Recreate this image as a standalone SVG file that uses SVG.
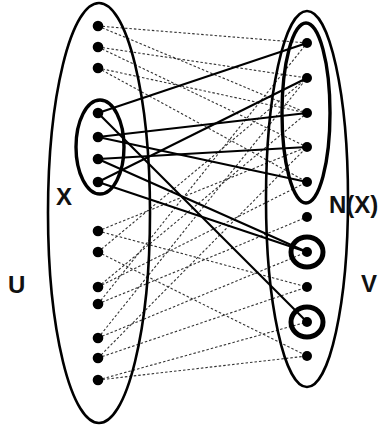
<svg xmlns="http://www.w3.org/2000/svg" width="384" height="431" viewBox="0 0 384 431">
<style>
.set{fill:none;stroke:#000;stroke-width:2.6}
.thick{fill:none;stroke:#000;stroke-width:3.4}
.ring{fill:none;stroke:#000;stroke-width:5}
.dot{fill:#000}
.solid{stroke:#000;stroke-width:2.1;fill:none}
.dash{stroke:#333;stroke-width:1.1;stroke-dasharray:2.5,2;fill:none}
.lbl{font-family:"Liberation Sans",Arial,sans-serif;font-weight:bold;font-size:24px;fill:#111}
</style>
<rect width="384" height="431" fill="#fff"/>
<g id="connectors">
<g id="dashed">
<line class="dash" x1="98" y1="26" x2="307" y2="43"/>
<line class="dash" x1="98" y1="26" x2="307" y2="113"/>
<line class="dash" x1="98" y1="47" x2="307" y2="78"/>
<line class="dash" x1="98" y1="47" x2="307" y2="147"/>
<line class="dash" x1="98" y1="68" x2="307" y2="113"/>
<line class="dash" x1="98" y1="68" x2="307" y2="182"/>
<line class="dash" x1="98" y1="231" x2="307" y2="147"/>
<line class="dash" x1="98" y1="231" x2="307" y2="287"/>
<line class="dash" x1="98" y1="252" x2="307" y2="78"/>
<line class="dash" x1="98" y1="252" x2="307" y2="356"/>
<line class="dash" x1="98" y1="287" x2="307" y2="113"/>
<line class="dash" x1="98" y1="287" x2="307" y2="182"/>
<line class="dash" x1="98" y1="304" x2="307" y2="43"/>
<line class="dash" x1="98" y1="304" x2="307" y2="217"/>
<line class="dash" x1="98" y1="338" x2="307" y2="78"/>
<line class="dash" x1="98" y1="338" x2="307" y2="252"/>
<line class="dash" x1="98" y1="358" x2="307" y2="147"/>
<line class="dash" x1="98" y1="358" x2="307" y2="287"/>
<line class="dash" x1="98" y1="380" x2="307" y2="322"/>
<line class="dash" x1="98" y1="380" x2="307" y2="356"/>
</g>
<g id="solid">
<line class="solid" x1="98" y1="113" x2="307" y2="43"/>
<line class="solid" x1="98" y1="113" x2="307" y2="322"/>
<line class="solid" x1="98" y1="137" x2="307" y2="113"/>
<line class="solid" x1="98" y1="137" x2="307" y2="182"/>
<line class="solid" x1="98" y1="159" x2="307" y2="147"/>
<line class="solid" x1="98" y1="159" x2="307" y2="252"/>
<line class="solid" x1="98" y1="182" x2="307" y2="78"/>
<line class="solid" x1="98" y1="182" x2="307" y2="252"/>
</g>
</g>
<g id="U">
<ellipse class="set" cx="99" cy="213" rx="51" ry="210"/>
<text class="lbl" x="8" y="293">U</text>
</g>
<g id="X">
<ellipse class="thick" cx="100" cy="147" rx="24" ry="47"/>
<text class="lbl" x="56" y="205">X</text>
</g>
<g id="V">
<ellipse class="set" cx="307" cy="199" rx="41" ry="188"/>
<text class="lbl" x="361" y="292">V</text>
</g>
<g id="NX">
<ellipse class="thick" cx="306" cy="113" rx="24" ry="90"/>
<text class="lbl" x="329" y="213">N(X)</text>
</g>
<g id="rings">
<ellipse class="ring" cx="307" cy="252" rx="16" ry="15"/>
<ellipse class="ring" cx="307" cy="322" rx="16" ry="15"/>
</g>
<g id="left-vertices">
<circle class="dot" cx="98" cy="26" r="5.3"/>
<circle class="dot" cx="98" cy="47" r="5.3"/>
<circle class="dot" cx="98" cy="68" r="5.3"/>
<circle class="dot" cx="98" cy="113" r="5.3"/>
<circle class="dot" cx="98" cy="137" r="5.3"/>
<circle class="dot" cx="98" cy="159" r="5.3"/>
<circle class="dot" cx="98" cy="182" r="5.3"/>
<circle class="dot" cx="98" cy="231" r="5.3"/>
<circle class="dot" cx="98" cy="252" r="5.3"/>
<circle class="dot" cx="98" cy="287" r="5.3"/>
<circle class="dot" cx="98" cy="304" r="5.3"/>
<circle class="dot" cx="98" cy="338" r="5.3"/>
<circle class="dot" cx="98" cy="358" r="5.3"/>
<circle class="dot" cx="98" cy="380" r="5.3"/>
</g>
<g id="right-vertices">
<circle class="dot" cx="307" cy="43" r="5"/>
<circle class="dot" cx="307" cy="78" r="5"/>
<circle class="dot" cx="307" cy="113" r="5"/>
<circle class="dot" cx="307" cy="147" r="5"/>
<circle class="dot" cx="307" cy="182" r="5"/>
<circle class="dot" cx="307" cy="217" r="5"/>
<circle class="dot" cx="307" cy="252" r="5"/>
<circle class="dot" cx="307" cy="287" r="5"/>
<circle class="dot" cx="307" cy="322" r="5"/>
<circle class="dot" cx="307" cy="356" r="5"/>
</g>
</svg>
